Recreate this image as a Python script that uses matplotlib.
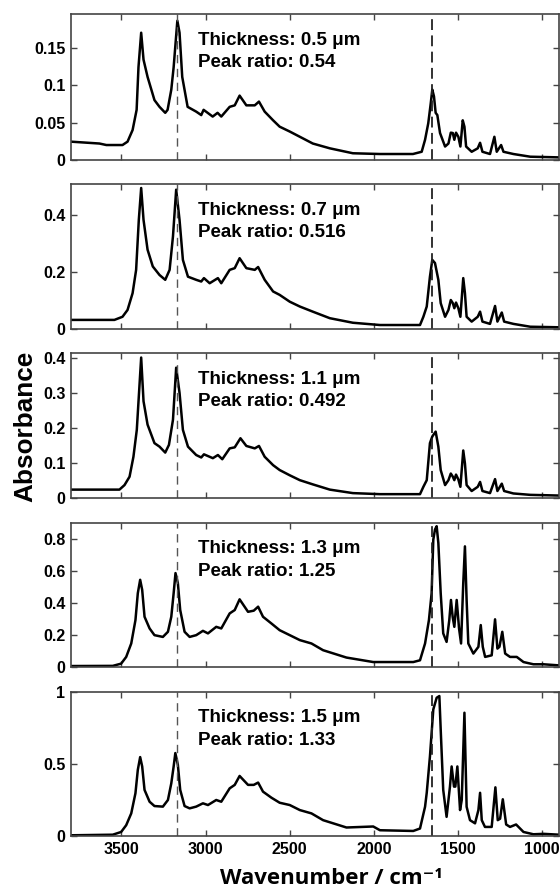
import matplotlib
matplotlib.use("Agg")
import matplotlib.pyplot as plt
from matplotlib.ticker import FixedLocator

# ---------------- data ----------------
thickness_labels = ["0.5", "0.7", "1.1", "1.3", "1.5"]
peak_ratios = ["0.54", "0.516", "0.492", "1.25", "1.33"]

wn_a = [3800, 3631, 3590, 3494, 3464, 3434, 3410, 3399, 3383, 3369, 3345, 3304, 3274,
        3240, 3226, 3204, 3190, 3168, 3155, 3139, 3107, 3056, 3026, 3012, 2958, 2929,
        2907, 2857, 2827, 2798, 2758, 2708, 2683, 2649, 2599, 2560, 2500, 2440, 2363,
        2262, 2125, 1964, 1768, 1716, 1696, 1677, 1662, 1653, 1643, 1633, 1623, 1607,
        1577, 1557, 1543, 1531, 1522, 1512, 1498, 1486, 1472, 1462, 1452, 1419, 1383,
        1369, 1355, 1310, 1284, 1270, 1244, 1230, 1171, 1071, 899]
abs_05 = [0.0245, 0.022, 0.020, 0.020, 0.0245, 0.040, 0.067, 0.124, 0.170, 0.134, 0.111,
          0.080, 0.071, 0.063, 0.067, 0.094, 0.124, 0.186, 0.170, 0.111, 0.071, 0.0646,
          0.060, 0.067, 0.058, 0.063, 0.058, 0.071, 0.073, 0.086, 0.073, 0.073, 0.078,
          0.0646, 0.053, 0.0445, 0.038, 0.031, 0.022, 0.0156, 0.009, 0.008, 0.008, 0.011,
          0.027, 0.049, 0.076, 0.094, 0.085, 0.063, 0.060, 0.036, 0.018, 0.022, 0.0365,
          0.036, 0.027, 0.0365, 0.031, 0.018, 0.053, 0.0445, 0.018, 0.011, 0.0156, 0.023,
          0.011, 0.008, 0.031, 0.011, 0.020, 0.011, 0.008, 0.0044, 0.0035]

wn_b = [3800, 3542, 3494, 3464, 3434, 3413, 3397, 3383, 3369, 3345, 3314, 3274, 3240,
        3214, 3194, 3175, 3155, 3135, 3105, 3056, 3026, 3010, 2976, 2927, 2907, 2857,
        2827, 2798, 2758, 2708, 2688, 2649, 2599, 2560, 2500, 2440, 2363, 2262, 2125,
        1964, 1726, 1706, 1686, 1667, 1653, 1637, 1617, 1603, 1577, 1557, 1543, 1531,
        1522, 1512, 1498, 1486, 1469, 1459, 1449, 1419, 1383, 1369, 1355, 1310, 1280,
        1266, 1240, 1226, 1171, 1071, 899]
abs_07 = [0.032, 0.032, 0.043, 0.067, 0.126, 0.208, 0.384, 0.496, 0.384, 0.279, 0.220,
          0.190, 0.173, 0.208, 0.326, 0.490, 0.384, 0.243, 0.184, 0.173, 0.167, 0.179,
          0.161, 0.179, 0.161, 0.208, 0.214, 0.249, 0.214, 0.208, 0.218, 0.173, 0.132,
          0.120, 0.096, 0.079, 0.061, 0.038, 0.022, 0.014, 0.014, 0.043, 0.079, 0.184,
          0.243, 0.232, 0.173, 0.091, 0.043, 0.067, 0.102, 0.091, 0.073, 0.093, 0.073,
          0.043, 0.179, 0.126, 0.043, 0.026, 0.043, 0.061, 0.026, 0.018, 0.081, 0.026,
          0.058, 0.026, 0.018, 0.008, 0.006]

wn_c = [3800, 3512, 3482, 3452, 3429, 3409, 3397, 3383, 3369, 3345, 3304, 3274, 3240,
        3218, 3194, 3175, 3155, 3135, 3105, 3056, 3026, 3010, 2957, 2927, 2901, 2857,
        2827, 2793, 2758, 2708, 2683, 2649, 2599, 2560, 2500, 2440, 2363, 2262, 2125,
        1964, 1726, 1706, 1686, 1667, 1653, 1633, 1617, 1603, 1577, 1557, 1543, 1531,
        1522, 1512, 1498, 1486, 1469, 1459, 1449, 1419, 1383, 1369, 1355, 1310, 1280,
        1266, 1240, 1226, 1171, 1071, 899]
abs_11 = [0.024, 0.024, 0.037, 0.061, 0.118, 0.195, 0.291, 0.402, 0.277, 0.210, 0.157,
          0.147, 0.130, 0.152, 0.224, 0.373, 0.301, 0.195, 0.147, 0.123, 0.116, 0.125,
          0.114, 0.123, 0.111, 0.142, 0.145, 0.171, 0.149, 0.142, 0.149, 0.118, 0.094,
          0.080, 0.065, 0.051, 0.039, 0.024, 0.014, 0.011, 0.011, 0.032, 0.051, 0.157,
          0.176, 0.190, 0.147, 0.080, 0.037, 0.051, 0.070, 0.061, 0.051, 0.067, 0.053,
          0.032, 0.136, 0.099, 0.037, 0.020, 0.032, 0.046, 0.020, 0.014, 0.054, 0.020,
          0.041, 0.020, 0.013, 0.009, 0.007]

wn_d = [3800, 3552, 3502, 3472, 3442, 3417, 3403, 3389, 3377, 3363, 3333, 3304, 3254,
        3224, 3204, 3190, 3179, 3165, 3151, 3125, 3095, 3056, 3016, 2986, 2937, 2907,
        2857, 2827, 2798, 2748, 2714, 2688, 2659, 2609, 2560, 2500, 2440, 2371, 2302,
        2163, 2004, 1766, 1726, 1696, 1673, 1657, 1647, 1637, 1627, 1617, 1603, 1588,
        1568, 1552, 1542, 1532, 1522, 1508, 1494, 1482, 1469, 1459, 1449, 1439, 1409,
        1379, 1365, 1353, 1339, 1300, 1280, 1266, 1254, 1237, 1220, 1191, 1151, 1111,
        1052, 992, 899]
abs_13 = [0.006, 0.007, 0.021, 0.063, 0.147, 0.293, 0.461, 0.545, 0.482, 0.314, 0.241,
          0.199, 0.188, 0.220, 0.314, 0.461, 0.587, 0.524, 0.356, 0.220, 0.188, 0.199,
          0.226, 0.210, 0.251, 0.241, 0.335, 0.356, 0.423, 0.345, 0.352, 0.377, 0.314,
          0.272, 0.230, 0.199, 0.168, 0.147, 0.105, 0.059, 0.031, 0.031, 0.042, 0.147,
          0.293, 0.461, 0.796, 0.859, 0.880, 0.775, 0.461, 0.210, 0.157, 0.293, 0.419,
          0.314, 0.251, 0.419, 0.241, 0.147, 0.524, 0.754, 0.419, 0.147, 0.084, 0.126,
          0.262, 0.126, 0.063, 0.073, 0.298, 0.115, 0.126, 0.220, 0.084, 0.063, 0.063,
          0.031, 0.017, 0.017, 0.010]

wn_e = [3800, 3552, 3502, 3472, 3442, 3417, 3403, 3389, 3377, 3363, 3333, 3304, 3254,
        3224, 3204, 3190, 3180, 3165, 3151, 3125, 3095, 3056, 3016, 2986, 2937, 2907,
        2857, 2827, 2798, 2748, 2714, 2688, 2659, 2609, 2560, 2500, 2440, 2371, 2302,
        2163, 2004, 1964, 1766, 1726, 1696, 1686, 1667, 1647, 1627, 1611, 1603,
        1588, 1568, 1548, 1538, 1524, 1516, 1504, 1488, 1478, 1462, 1449, 1429,
        1399, 1379, 1369, 1359, 1340, 1300, 1278, 1264, 1250, 1234, 1214, 1191, 1155,
        1111, 1052, 992, 899]
abs_15 = [0.005, 0.009, 0.028, 0.075, 0.157, 0.297, 0.459, 0.548, 0.483, 0.320, 0.238,
          0.208, 0.204, 0.250, 0.366, 0.483, 0.576, 0.494, 0.320, 0.208, 0.192, 0.204,
          0.227, 0.215, 0.250, 0.238, 0.331, 0.355, 0.417, 0.355, 0.355, 0.371, 0.308,
          0.266, 0.231, 0.215, 0.180, 0.157, 0.110, 0.059, 0.066, 0.040, 0.035, 0.052,
          0.203, 0.300, 0.552, 0.879, 0.960, 0.972, 0.739,
          0.320, 0.133, 0.343, 0.483, 0.343, 0.343, 0.483, 0.180, 0.250, 0.856, 0.203, 0.110,
          0.088, 0.180, 0.300, 0.110, 0.063, 0.063, 0.338, 0.110, 0.120, 0.255, 0.080, 0.063,
          0.080, 0.028, 0.012, 0.015, 0.009]

wn_sets = [wn_a, wn_b, wn_c, wn_d, wn_e]
abs_sets = [abs_05, abs_07, abs_11, abs_13, abs_15]
y_max = [0.195, 0.51, 0.415, 0.90, 1.0]
y_ticks = [[0, 0.05, 0.1, 0.15], [0, 0.2, 0.4], [0, 0.1, 0.2, 0.3, 0.4],
           [0, 0.2, 0.4, 0.6, 0.8], [0, 0.5, 1]]
y_ticklabels = [["0", "0.05", "0.1", "0.15"], ["0", "0.2", "0.4"],
                ["0", "0.1", "0.2", "0.3", "0.4"], ["0", "0.2", "0.4", "0.6", "0.8"],
                ["0", "0.5", "1"]]
x_ticks = [3500, 3000, 2500, 2000, 1500, 1000]
x_ticklabels = ["3500", "3000", "2500", "2000", "1500", "1000"]
ref_lines = [3172, 1656]

# ---------------- figure ----------------
W, H = 560, 893
fig = plt.figure(figsize=(W / 100, H / 100), dpi=100)
tick_font = dict(family=["Liberation Sans", "DejaVu Sans"], weight="bold", size=11.5)

panel_px = [(14, 160), (184, 329), (353, 498), (523, 667), (692, 836)]
left_px, right_px = 71, 559

axes = []
for i, (top, bot) in enumerate(panel_px):
    ax = fig.add_axes([left_px / W, 1 - bot / H, (right_px - left_px) / W, (bot - top) / H])
    axes.append(ax)
    ax.plot(wn_sets[i], abs_sets[i], color="black", lw=1.8, solid_joinstyle="round")
    ax.set_xlim(3800, 900)
    ax.set_ylim(0, y_max[i])
    ax.axvline(ref_lines[0], color="#555555", lw=1.0, ls=(0, (6, 4)))
    ax.axvline(ref_lines[1], color="#222222", lw=1.3, ls=(0, (6, 3)))
    ax.xaxis.set_major_locator(FixedLocator(x_ticks))
    ax.set_yticks(y_ticks[i])
    ax.set_yticklabels(y_ticklabels[i], **tick_font)
    if i == len(panel_px) - 1:
        ax.set_xticklabels(x_ticklabels, **tick_font)
    else:
        ax.set_xticklabels([])
    ax.tick_params(direction="in", length=4, width=1.0, top=True, right=True,
                   color="#444444", pad=4)
    for s in ax.spines.values():
        s.set_color("#444444")
        s.set_linewidth(1.2)
    ax.text(0.26, 0.82, f"Thickness: {thickness_labels[i]} \u03bcm", transform=ax.transAxes,
            fontsize=13.5, fontweight="bold", family=["Liberation Sans", "DejaVu Sans"],
            va="center", ha="left")
    ax.text(0.26, 0.665, f"Peak ratio: {peak_ratios[i]}", transform=ax.transAxes,
            fontsize=13.5, fontweight="bold", family=["Liberation Sans", "DejaVu Sans"],
            va="center", ha="left")

fig.text(25 / W, 1 - 426 / H, "Absorbance", rotation=90, ha="center", va="center",
         fontsize=18.8, fontweight="bold", family=["Liberation Sans", "DejaVu Sans"])
fig.text(331 / W, 1 - 878 / H, "Wavenumber / cm\u207b\u00b9", ha="center", va="center",
         fontsize=16, fontweight="bold", family=["Open Sans", "DejaVu Sans"])

fig.savefig("out.png", dpi=100)
